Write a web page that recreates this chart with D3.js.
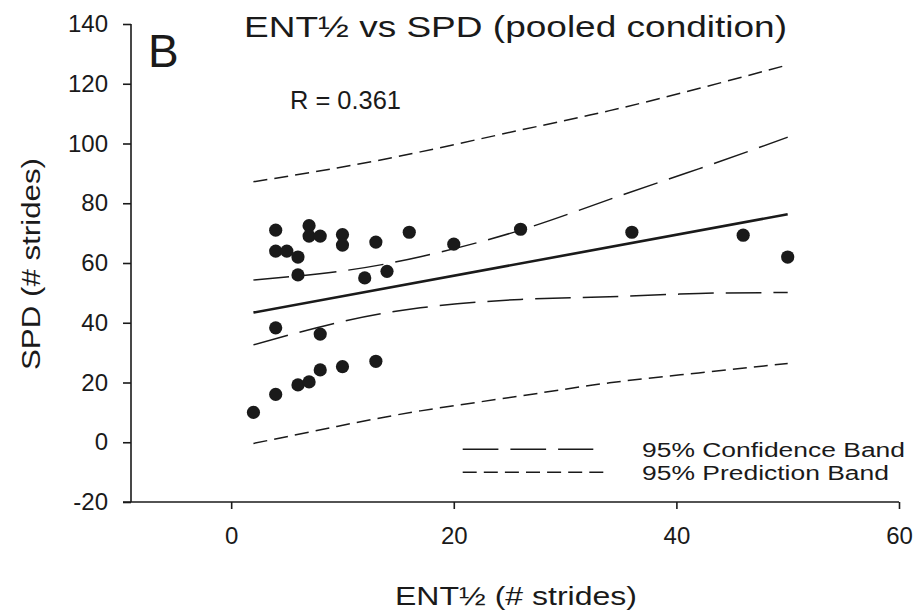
<!DOCTYPE html>
<html>
<head>
<meta charset="utf-8">
<script src="https://cdn.jsdelivr.net/npm/d3@7"></script>
<style>
  html, body { margin: 0; padding: 0; background: #fff; }
  svg { display: block; }
  text { font-family: "Liberation Sans", Arial, sans-serif; fill: #1a1a1a; }
</style>
</head>
<body>
<script>
// ---- data ----
const pointsX = [2, 4, 4, 5, 6, 6, 7, 7, 8, 10, 10, 13, 16, 12, 14, 4, 8, 4, 6, 7, 8, 10, 13, 20, 26, 36, 46, 50];
const pointsY = [10, 71, 64, 64, 62, 56, 72.5, 69, 69, 69.5, 66, 67, 70.3, 55, 57.2, 38.3, 36.2, 16, 19.2, 20.2, 24.2, 25.3, 27.1, 66.3, 71.3, 70.3, 69.3, 62];
const fitX = [2, 50];
const fitY = [43.4, 76.3];
const bandX = [2, 9.5, 17, 26, 34, 42, 50];
const confUpper = [54.3, 57.1, 62.1, 71.0, 81.3, 91.5, 102.1];
const confLower = [32.6, 40.0, 45.0, 47.8, 48.7, 49.8, 50.1];
const predUpper = [87.2, 91.8, 97.2, 104.5, 111.0, 118.4, 126.3];
const predLower = [-0.4, 5.3, 10.5, 15.5, 19.9, 23.2, 26.4];
const xTicks = [0, 20, 40, 60];
const yTicks = [-20, 0, 20, 40, 60, 80, 100, 120, 140];
const titleText = "ENT\u00BD vs SPD (pooled condition)";
const xLabel = "ENT\u00BD (# strides)";
const yLabel = "SPD (# strides)";
const panelLabel = "B";
const rText = "R = 0.361";
const legendLabels = ["95% Confidence Band", "95% Prediction Band"];

// ---- layout ----
const W = 917, H = 616;
const L = 131, R = 899, T = 24, B = 502;
const ink = "#1a1a1a";

const svg = d3.select("body").append("svg").attr("width", W).attr("height", H);

const x = d3.scaleLinear().domain([-9, 60]).range([L, R]);
const y = d3.scaleLinear().domain([-20, 140]).range([B, T]);

// axes
const fmt = d => String(d);
const xAxis = d3.axisBottom(x).tickValues(xTicks).tickSize(7).tickPadding(18).tickFormat(fmt);
const yAxis = d3.axisLeft(y).tickValues(yTicks).tickSize(8).tickPadding(15).tickFormat(fmt);

const gx = svg.append("g").attr("transform", `translate(0,${B})`).call(xAxis);
const gy = svg.append("g").attr("transform", `translate(${L},0)`).call(yAxis);
[gx, gy].forEach(g => {
  g.attr("font-family", null).attr("font-size", null);
  g.select(".domain").remove();
  g.selectAll(".tick line").attr("stroke", ink).attr("stroke-width", 1.6);
  g.selectAll(".tick text").attr("font-size", 24).attr("fill", ink)
    .style("font-family", '"Liberation Sans", Arial, sans-serif');
});
gx.selectAll(".tick text").attr("dy", "0.71em");
// axis lines
svg.append("line").attr("x1", L - 8).attr("x2", R).attr("y1", B).attr("y2", B)
  .attr("stroke", ink).attr("stroke-width", 1.6);
svg.append("line").attr("x1", L).attr("x2", L).attr("y1", T).attr("y2", B)
  .attr("stroke", ink).attr("stroke-width", 1.6);

// bands
const line = d3.line().x(d => x(d[0])).y(d => y(d[1])).curve(d3.curveNatural);
const mk = (xs, ys) => xs.map((v, i) => [v, ys[i]]);

const bands = [
  { data: mk(bandX, confUpper), dash: "35.7,12" },
  { data: mk(bandX, confLower), dash: "35.7,12" },
  { data: mk(bandX, predUpper), dash: "14,7.1" },
  { data: mk(bandX, predLower), dash: "14,7.1" }
];
svg.append("g").selectAll("path").data(bands).join("path")
  .attr("d", d => line(d.data))
  .attr("fill", "none").attr("stroke", ink).attr("stroke-width", 1.5)
  .attr("stroke-dasharray", d => d.dash);

// regression line
svg.append("path").attr("d", d3.line().x(d => x(d[0])).y(d => y(d[1]))(mk(fitX, fitY)))
  .attr("fill", "none").attr("stroke", ink).attr("stroke-width", 2.6);

// points
svg.append("g").selectAll("circle").data(mk(pointsX, pointsY)).join("circle")
  .attr("cx", d => x(d[0])).attr("cy", d => y(d[1])).attr("r", 6.6)
  .attr("fill", ink);

// texts
function stretchText(sel, width) {
  sel.attr("textLength", width).attr("lengthAdjust", "spacingAndGlyphs");
}
stretchText(svg.append("text").attr("x", 244).attr("y", 37).attr("font-size", 30).text(titleText), 543);
svg.append("text").attr("x", 148).attr("y", 67).attr("font-size", 46).text(panelLabel);
stretchText(svg.append("text").attr("x", 290).attr("y", 109).attr("font-size", 26).text(rText), 111);
stretchText(svg.append("text").attr("x", 395).attr("y", 605).attr("font-size", 26).text(xLabel), 242);
stretchText(svg.append("text").attr("transform", "translate(40,370) rotate(-90)").attr("font-size", 26).text(yLabel), 212);

// legend
const legY = [449.3, 472.3];
const legDash = ["35.7,12", "14,7.1"];
const legEnd = [593.3, 603.3];
const legW = [263, 247];
legendLabels.forEach((lab, i) => {
  svg.append("line").attr("x1", 462.7).attr("x2", legEnd[i]).attr("y1", legY[i]).attr("y2", legY[i])
    .attr("stroke", ink).attr("stroke-width", 1.5).attr("stroke-dasharray", legDash[i]);
  stretchText(svg.append("text").attr("x", 642).attr("y", legY[i] + 8).attr("font-size", 20).text(lab), legW[i]);
});
</script>
</body>
</html>
